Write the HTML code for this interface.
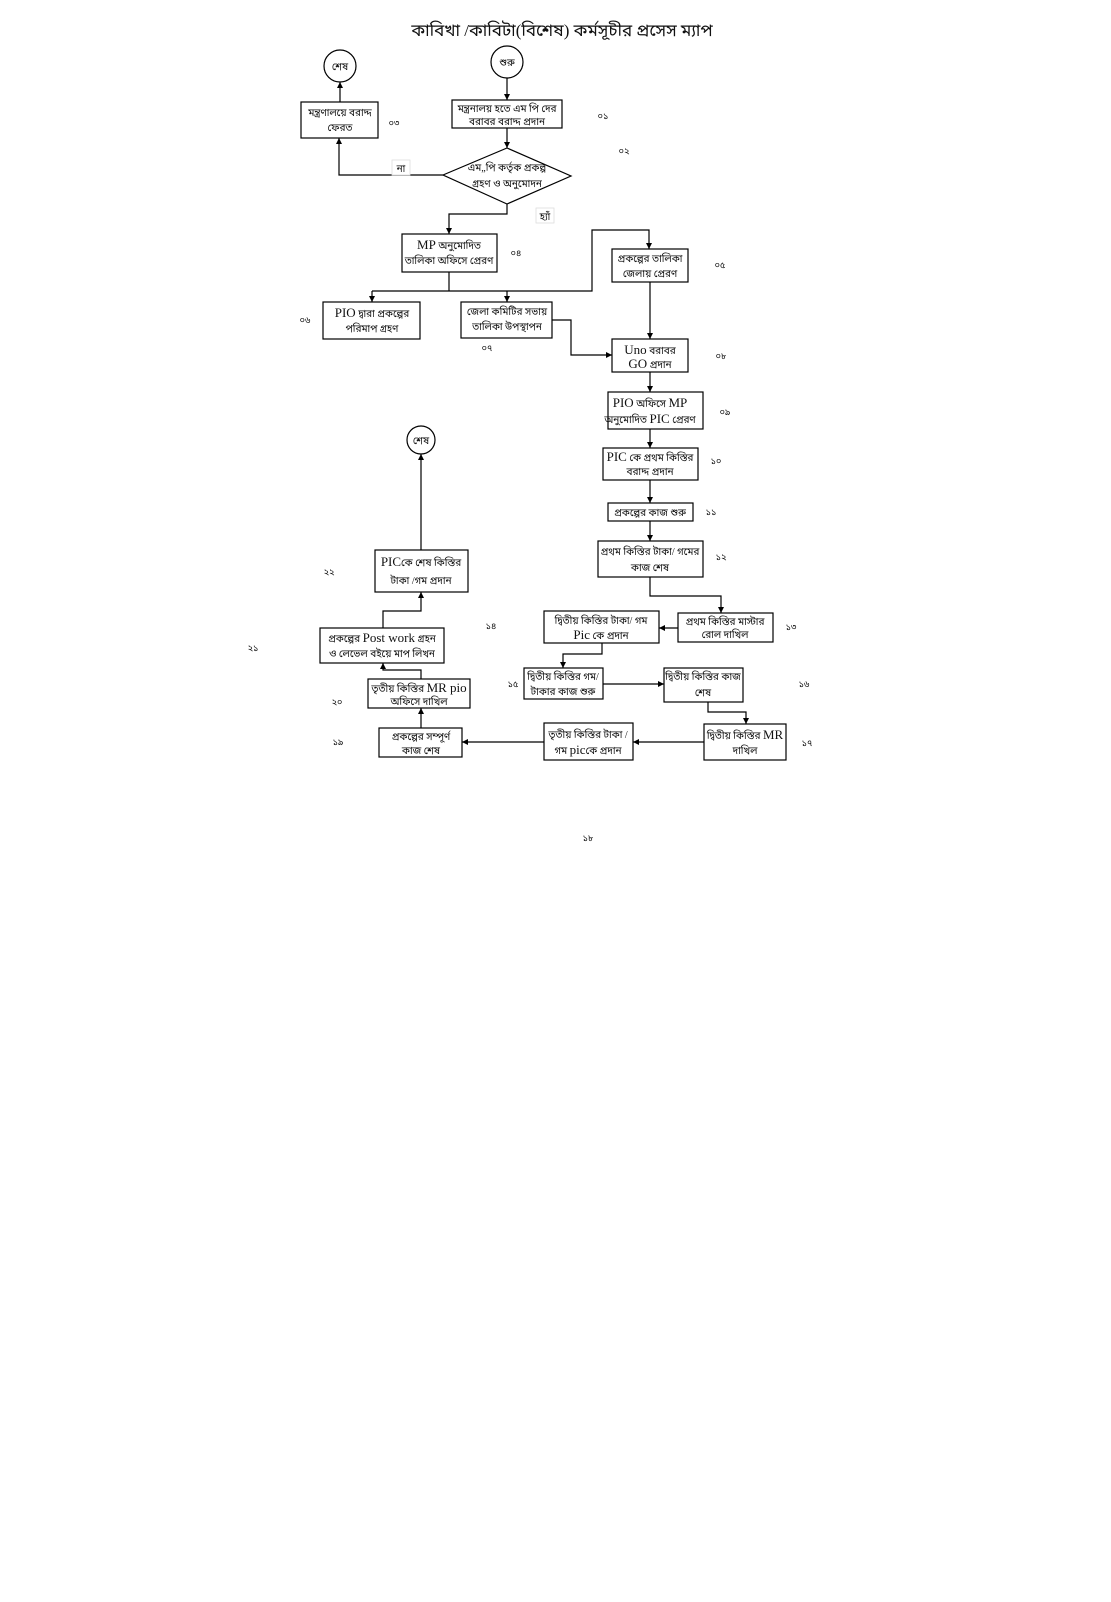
<!DOCTYPE html>
<html><head><meta charset="utf-8"><style>
html,body{margin:0;padding:0;background:#fff;}
body{width:1111px;height:1597px;overflow:hidden;}
svg text{font-family:"Liberation Serif","Noto Sans Bengali","Noto Serif Bengali","Lohit Bengali","FreeSerif","Liberation Sans",serif;fill:#111;}
</style></head><body>
<svg width="1111" height="1597" xmlns="http://www.w3.org/2000/svg">
<defs><marker id="a" markerWidth="6" markerHeight="6" refX="6" refY="3" orient="auto" markerUnits="userSpaceOnUse"><path d="M0,0 L6,3 L0,6 z" fill="#000"/></marker></defs>
<text x="562" y="36" font-size="17" text-anchor="middle">কাবিখা /কাবিটা(বিশেষ)  কর্মসূচীর প্রসেস ম্যাপ</text>
<g fill="#fff" stroke="#000" stroke-width="1.2">
<circle cx="340" cy="66" r="16"/><circle cx="507" cy="62" r="16"/><circle cx="421" cy="440" r="14"/>
<polygon points="443,175 507,148 571,176 507,204"/>
<rect x="452" y="100" width="110" height="28"/>
<rect x="301" y="102" width="77" height="36"/>
<rect x="402" y="234" width="95" height="38"/>
<rect x="612" y="249" width="76" height="33"/>
<rect x="323" y="302" width="97" height="37"/>
<rect x="461" y="302" width="91" height="36"/>
<rect x="612" y="339" width="76" height="33"/>
<rect x="608" y="392" width="95" height="37"/>
<rect x="603" y="448" width="95" height="32"/>
<rect x="608" y="503" width="85" height="18"/>
<rect x="598" y="541" width="105" height="36"/>
<rect x="678" y="613" width="95" height="29"/>
<rect x="544" y="611" width="115" height="32"/>
<rect x="524" y="668" width="79" height="31"/>
<rect x="664" y="668" width="79" height="34"/>
<rect x="704" y="724" width="82" height="36"/>
<rect x="544" y="723" width="89" height="37"/>
<rect x="379" y="728" width="83" height="29"/>
<rect x="368" y="679" width="102" height="29"/>
<rect x="320" y="628" width="124" height="35"/>
<rect x="375" y="550" width="93" height="42"/>
</g>
<g fill="none" stroke="#000" stroke-width="1.2">
<path d="M507 78 V100" marker-end="url(#a)"/>
<path d="M507 128 V148" marker-end="url(#a)"/>
<path d="M443 175 H339 V138" marker-end="url(#a)"/>
<path d="M340 102 V82" marker-end="url(#a)"/>
<path d="M507 204 V214 H449 V234" marker-end="url(#a)"/>
<path d="M449 272 V291"/>
<path d="M372 291 H592 V230 H649 V249" marker-end="url(#a)"/>
<path d="M372 291 V302" marker-end="url(#a)"/>
<path d="M507 291 V302" marker-end="url(#a)"/>
<path d="M650 282 V339" marker-end="url(#a)"/>
<path d="M552 320 H571 V355 H612" marker-end="url(#a)"/>
<path d="M650 372 V392" marker-end="url(#a)"/>
<path d="M650 429 V448" marker-end="url(#a)"/>
<path d="M650 480 V503" marker-end="url(#a)"/>
<path d="M650 521 V541" marker-end="url(#a)"/>
<path d="M650 577 V596 H721 V613" marker-end="url(#a)"/>
<path d="M678 628 H659" marker-end="url(#a)"/>
<path d="M602 643 V654 H563 V668" marker-end="url(#a)"/>
<path d="M603 684 H664" marker-end="url(#a)"/>
<path d="M708 702 V712 H746 V724" marker-end="url(#a)"/>
<path d="M704 742 H633" marker-end="url(#a)"/>
<path d="M544 742 H462" marker-end="url(#a)"/>
<path d="M421 728 V708" marker-end="url(#a)"/>
<path d="M421 679 V670 H383 V663" marker-end="url(#a)"/>
<path d="M383 628 V611 H421 V592" marker-end="url(#a)"/>
<path d="M421 550 V454" marker-end="url(#a)"/>
</g>
<rect x="392" y="160" width="18" height="15" fill="#fff" stroke="#ddd" stroke-width="0.8"/>
<rect x="536" y="208" width="18" height="15" fill="#fff" stroke="#ddd" stroke-width="0.8"/>
<g font-size="10" text-anchor="middle">
<text x="401" y="172">না</text><text x="545" y="220">হ্যাঁ</text>
<text x="340" y="70">শেষ</text><text x="507" y="66">শুরু</text><text x="421" y="444">শেষ</text>
<text x="507" y="112">মন্ত্রনালয় হতে এম পি দের</text><text x="507" y="125">বরাবর বরাদ্দ প্রদান</text>
<text x="340" y="116">মন্ত্রণালয়ে বরাদ্দ</text><text x="340" y="131">ফেরত</text>
<text x="507" y="171">এম„পি কর্তৃক  প্রকল্প</text><text x="507" y="187">গ্রহণ ও অনুমোদন</text>
<text x="449" y="249"><tspan font-size="13">MP</tspan> অনুমোদিত</text><text x="449" y="264">তালিকা অফিসে প্রেরণ</text>
<text x="650" y="262">প্রকল্পের  তালিকা</text><text x="650" y="277">জেলায় প্রেরণ</text>
<text x="372" y="317"><tspan font-size="13">PIO</tspan> দ্বারা প্রকল্পের</text><text x="372" y="332">পরিমাপ গ্রহণ</text>
<text x="507" y="315">জেলা কমিটির সভায়</text><text x="507" y="330">তালিকা উপস্থাপন</text>
<text x="650" y="354"><tspan font-size="13">Uno</tspan> বরাবর</text><text x="650" y="368"><tspan font-size="13">GO</tspan> প্রদান</text>
<text x="650" y="407"><tspan font-size="13">PIO</tspan> অফিসে <tspan font-size="13">MP</tspan></text><text x="650" y="423">অনুমোদিত <tspan font-size="13">PIC</tspan>  প্রেরণ</text>
<text x="650" y="461"><tspan font-size="13">PIC</tspan> কে প্রথম কিস্তির</text><text x="650" y="475">বরাদ্দ প্রদান</text>
<text x="650" y="516">প্রকল্পের  কাজ শুরু</text>
<text x="650" y="555">প্রথম কিস্তির টাকা/ গমের</text><text x="650" y="571">কাজ শেষ</text>
<text x="725" y="625">প্রথম কিস্তির  মাস্টার</text><text x="725" y="638">রোল দাখিল</text>
<text x="601" y="624">দ্বিতীয় কিস্তির টাকা/ গম</text><text x="601" y="639"><tspan font-size="13">Pic</tspan> কে প্রদান</text>
<text x="563" y="680">দ্বিতীয় কিস্তির গম/</text><text x="563" y="695">টাকার কাজ শুরু</text>
<text x="703" y="680">দ্বিতীয় কিস্তির কাজ</text><text x="703" y="696">শেষ</text>
<text x="745" y="739">দ্বিতীয় কিস্তির <tspan font-size="13">MR</tspan></text><text x="745" y="754">দাখিল</text>
<text x="588" y="738">তৃতীয় কিস্তির টাকা /</text><text x="588" y="754">গম <tspan font-size="13">pic</tspan>কে প্রদান</text>
<text x="421" y="740">প্রকল্পের সম্পূর্ণ</text><text x="421" y="754">কাজ শেষ</text>
<text x="419" y="692">তৃতীয় কিস্তির <tspan font-size="13">MR pio</tspan></text><text x="419" y="705">অফিসে দাখিল</text>
<text x="382" y="642">প্রকল্পের <tspan font-size="13">Post work</tspan> গ্রহন</text><text x="382" y="657">ও লেভেল বইয়ে মাপ লিখন</text>
<text x="421" y="566"><tspan font-size="13">PIC</tspan>কে শেষ কিস্তির</text><text x="421" y="584">টাকা /গম প্রদান</text>
</g>
<g font-size="9" text-anchor="middle" fill="#333">
<text x="603" y="119">০১</text><text x="624" y="154">০২</text><text x="394" y="126">০৩</text><text x="516" y="256">০৪</text>
<text x="720" y="268">০৫</text><text x="305" y="323">০৬</text><text x="487" y="351">০৭</text><text x="721" y="359">০৮</text>
<text x="725" y="415">০৯</text><text x="716" y="464">১০</text><text x="711" y="515">১১</text><text x="721" y="560">১২</text>
<text x="791" y="630">১৩</text><text x="491" y="629">১৪</text><text x="513" y="687">১৫</text><text x="804" y="687">১৬</text>
<text x="807" y="746">১৭</text><text x="588" y="841">১৮</text><text x="338" y="745">১৯</text><text x="337" y="705">২০</text>
<text x="253" y="651">২১</text><text x="329" y="575">২২</text>
</g>
</svg>
</body></html>
